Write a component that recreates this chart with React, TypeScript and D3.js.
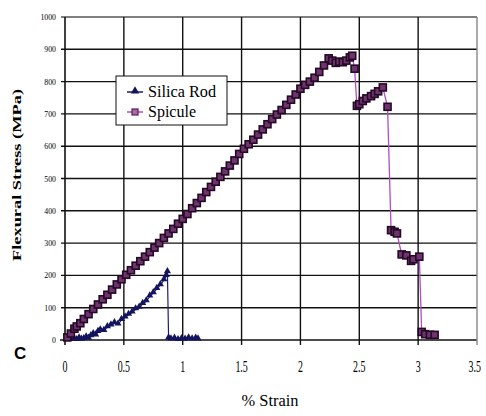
import React, { useEffect, useRef } from 'react';
import * as d3 from 'd3';

// Silica Rod series (% strain, flexural stress)
const rodStrain = [0.05, 0.08, 0.1, 0.12, 0.14, 0.16, 0.18, 0.2, 0.22, 0.24, 0.26, 0.28, 0.3, 0.33, 0.36, 0.39, 0.42, 0.45, 0.48, 0.51, 0.54, 0.57, 0.6, 0.63, 0.66, 0.69, 0.72, 0.75, 0.78, 0.81, 0.84, 0.86, 0.87, 0.88, 0.9, 0.93, 0.96, 0.99, 1.02, 1.05, 1.08, 1.11, 1.13];
const rodStress = [0, 2, 0, 5, 1, 3, 8, 4, 12, 18, 14, 25, 30, 28, 40, 45, 52, 48, 62, 70, 78, 85, 95, 100, 112, 120, 135, 145, 158, 170, 185, 198, 210, 5, 2, 4, 0, 3, 1, 5, 2, 4, 2];

// Spicule series
const spiStrain = [0.02, 0.05, 0.08, 0.1, 0.13, 0.16, 0.2, 0.24, 0.28, 0.32, 0.36, 0.4, 0.44, 0.48, 0.52, 0.56, 0.6, 0.64, 0.68, 0.72, 0.76, 0.8, 0.84, 0.88, 0.92, 0.96, 1.0, 1.04, 1.08, 1.12, 1.16, 1.2, 1.24, 1.28, 1.32, 1.36, 1.4, 1.44, 1.48, 1.52, 1.56, 1.6, 1.64, 1.68, 1.72, 1.76, 1.8, 1.84, 1.88, 1.92, 1.96, 2.0, 2.04, 2.08, 2.12, 2.16, 2.2, 2.24, 2.27, 2.3, 2.33, 2.36, 2.39, 2.42, 2.44, 2.46, 2.48, 2.5, 2.53, 2.56, 2.6, 2.63, 2.66, 2.7, 2.74, 2.77, 2.8, 2.82, 2.86, 2.9, 2.94, 2.96, 3.01, 3.03, 3.06, 3.1, 3.14];
const spiStress = [8, 20, 35, 42, 52, 65, 80, 96, 110, 126, 140, 156, 172, 188, 202, 216, 230, 244, 258, 272, 286, 300, 316, 330, 344, 360, 375, 390, 408, 424, 440, 458, 474, 490, 505, 522, 540, 556, 576, 592, 606, 620, 636, 652, 668, 684, 698, 712, 728, 744, 760, 778, 790, 800, 812, 830, 850, 872, 865, 858, 862, 860, 865, 875, 880, 840, 725, 730, 740, 748, 755, 762, 770, 782, 722, 340, 335, 330, 265, 262, 245, 250, 258, 25, 18, 16, 16];

const xTicks = [0, 0.5, 1, 1.5, 2, 2.5, 3, 3.5];
const yTicks = [0, 100, 200, 300, 400, 500, 600, 700, 800, 900, 1000];
const seriesNames = ['Silica Rod', 'Spicule'];

const App = () => {
  const ref = useRef<SVGSVGElement>(null);

  useEffect(() => {
    const svg = d3.select(ref.current);
    svg.selectAll('*').remove();

    const x = d3.scaleLinear().domain([0, 3.5]).range([65, 477]);
    const y = d3.scaleLinear().domain([0, 1000]).range([340, 17]);
    const serif = '"Liberation Serif", "Times New Roman", serif';

    svg.append('rect').attr('width', 486).attr('height', 416).attr('fill', '#fff');

    // grid
    const grid = svg.append('g');
    yTicks.forEach(t => {
      grid.append('line')
        .attr('x1', t === 0 ? 60 : 61).attr('x2', 477)
        .attr('y1', y(t)).attr('y2', y(t))
        .attr('stroke', t === 1000 ? '#555' : '#111').attr('stroke-width', 1.4);
    });
    xTicks.forEach(t => {
      grid.append('line')
        .attr('x1', x(t)).attr('x2', x(t))
        .attr('y1', 17).attr('y2', 345)
        .attr('stroke', t === 3.5 ? '#888' : '#111').attr('stroke-width', t === 0 ? 1.6 : 1.4);
    });

    // tick labels
    yTicks.forEach(t => {
      const s = String(t);
      svg.append('text')
        .attr('x', 56).attr('y', y(t) + 3)
        .attr('text-anchor', 'end')
        .attr('font-family', serif).attr('font-size', 9)
        .attr('textLength', s.length * 3.9).attr('lengthAdjust', 'spacingAndGlyphs')
        .text(s);
    });
    xTicks.forEach((t, i) => {
      const s = String(t);
      const last = i === xTicks.length - 1;
      // condensed serif digits, squeezed horizontally
      svg.append('text')
        .attr('transform', `translate(${last ? 481 : x(t)},372) scale(0.62,1)`)
        .attr('text-anchor', last ? 'end' : 'middle')
        .attr('font-family', serif).attr('font-size', 16)
        .text(s);
    });

    // axis titles
    svg.append('text')
      .attr('x', 270).attr('y', 406)
      .attr('text-anchor', 'middle')
      .attr('font-family', serif).attr('font-size', 16)
      .attr('textLength', 57).attr('lengthAdjust', 'spacingAndGlyphs')
      .text('% Strain');
    svg.append('text')
      .attr('transform', 'translate(21,175) rotate(-90)')
      .attr('text-anchor', 'middle')
      .attr('font-family', serif).attr('font-size', 12).attr('font-weight', 'bold')
      .attr('textLength', 172).attr('lengthAdjust', 'spacingAndGlyphs')
      .text('Flexural Stress (MPa)');
    svg.append('text')
      .attr('x', 14).attr('y', 359)
      .attr('font-family', '"Liberation Sans", Arial, sans-serif')
      .attr('font-size', 17).attr('font-weight', 'bold')
      .text('C');

    const line = d3.line<[number, number]>().x(d => x(d[0])).y(d => y(d[1]));
    const rod: [number, number][] = rodStrain.map((s, i) => [s, rodStress[i]]);
    const spi: [number, number][] = spiStrain.map((s, i) => [s, spiStress[i]]);

    const tri = d3.symbol().type(d3.symbolTriangle).size(22);

    // Silica rod
    svg.append('path').attr('d', line(rod)).attr('fill', 'none')
      .attr('stroke', '#1c1c78').attr('stroke-width', 1.2);
    svg.append('g').selectAll('path').data(rod).enter().append('path')
      .attr('d', tri())
      .attr('transform', d => `translate(${x(d[0])},${y(d[1]) - 1})`)
      .attr('fill', '#14145e');

    // Spicule
    svg.append('path').attr('d', line(spi)).attr('fill', 'none')
      .attr('stroke', '#b24cc8').attr('stroke-width', 1.3);
    svg.append('g').selectAll('rect').data(spi).enter().append('rect')
      .attr('x', d => x(d[0]) - 3.5).attr('y', d => y(d[1]) - 3.5)
      .attr('width', 7).attr('height', 7)
      .attr('fill', '#6e346e').attr('stroke', '#240824').attr('stroke-width', 1.6);

    // legend
    const lg = svg.append('g');
    lg.append('rect').attr('x', 116).attr('y', 76).attr('width', 111).attr('height', 49)
      .attr('fill', '#fff').attr('stroke', '#111').attr('stroke-width', 1);
    seriesNames.forEach((name, i) => {
      const ly = 92 + i * 20;
      lg.append('line').attr('x1', 127).attr('x2', 143).attr('y1', ly).attr('y2', ly)
        .attr('stroke', i === 0 ? '#1c1c78' : '#b24cc8').attr('stroke-width', 1.5);
      if (i === 0) {
        lg.append('path').attr('d', d3.symbol().type(d3.symbolTriangle).size(30)())
          .attr('transform', `translate(135,${ly - 1})`).attr('fill', '#14145e');
      } else {
        lg.append('rect').attr('x', 132).attr('y', ly - 3).attr('width', 6).attr('height', 6)
          .attr('fill', '#a070a0').attr('stroke', '#5a1a5a').attr('stroke-width', 1.2);
      }
      lg.append('text').attr('x', 148).attr('y', ly + 5)
        .attr('font-family', serif).attr('font-size', 16)
        .attr('textLength', i === 0 ? 68 : 48).attr('lengthAdjust', 'spacingAndGlyphs')
        .text(name);
    });
  }, []);

  return (
    <svg
      ref={ref}
      width={486}
      height={416}
      style={{ position: 'absolute', left: 0, top: 0, display: 'block' }}
    />
  );
};

export default App;
